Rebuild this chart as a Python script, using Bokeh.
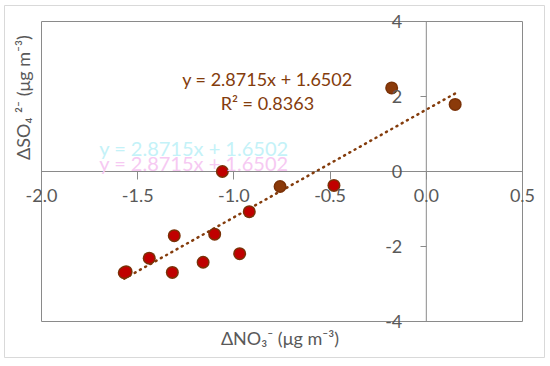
from math import pi
from bokeh.plotting import figure
from bokeh.models import Range1d, FixedTicker, NumeralTickFormatter, Label, ColumnDataSource
from bokeh.embed import file_html
from bokeh.resources import INLINE

# ---- data ----
no3 = [-0.18, 0.15, -0.48, -0.76, -1.06, -0.92, -1.10, -1.31, -0.97, -1.16, -1.44, -1.32, -1.56, -1.57]
so4 = [2.23, 1.79, -0.37, -0.40, 0.00, -1.07, -1.67, -1.71, -2.19, -2.42, -2.31, -2.69, -2.67, -2.70]
group = ["b", "b", "r", "b", "r", "r", "r", "r", "r", "r", "r", "r", "r", "r"]

slope = 2.8715
intercept = 1.6502
r_squared = 0.8363

x_ticks = [-2.0, -1.5, -1.0, -0.5, 0.0, 0.5]
y_ticks = [-4, -2, 0, 2, 4]

x_title = "ΔNO₃⁻ (μg m⁻³)"
y_title = "ΔSO₄ ²⁻ (μg m⁻³)"
eq_text = f"y = {slope}x + {intercept}"
r2_text = f"R² = {r_squared}"

# ---- styles / layout ----
FONT = "Lato"
GREY_TXT = "#595959"
AXIS_C = "#8a8a8a"
BROWN = "#843C0C"
RED = "#C00000"
fill_map = {"b": "#8B3A0A", "r": RED}

W, H = 541, 353
BOX_W, BOX_H = 481, 300          # inner plot box in pixels
PAD_L, PAD_R, PAD_T, PAD_B = 37, 23, 16, 37
ux = BOX_W / (x_ticks[-1] - x_ticks[0])
uy = BOX_H / (y_ticks[-1] - y_ticks[0])
x_range = Range1d(x_ticks[0] - PAD_L / ux, x_ticks[-1] + PAD_R / ux)
y_range = Range1d(y_ticks[0] - PAD_B / uy, y_ticks[-1] + PAD_T / uy)

p = figure(width=W, height=H, output_backend="svg", toolbar_location=None,
           x_range=x_range, y_range=y_range,
           min_border_left=0, min_border_right=0, min_border_top=0, min_border_bottom=0)
p.styles = {"margin-left": "4px", "margin-top": "5px"}
p.background_fill_color = "white"
p.border_fill_color = "white"
p.outline_line_color = "#d9d9d9"
p.outline_line_width = 1
p.xgrid.visible = False
p.ygrid.visible = False

for ax in (p.xaxis[0], p.yaxis[0]):
    ax.fixed_location = 0
    ax.axis_line_color = None
    ax.major_tick_line_color = AXIS_C
    ax.minor_tick_line_color = None
    ax.major_tick_in = 0
    ax.major_label_text_font = FONT
    ax.major_label_text_font_size = "18px"
    ax.major_label_text_color = GREY_TXT

p.xaxis.ticker = FixedTicker(ticks=x_ticks)
p.yaxis.ticker = FixedTicker(ticks=y_ticks)
p.xaxis.formatter = NumeralTickFormatter(format="0.0")
p.yaxis.formatter = NumeralTickFormatter(format="0")
p.xaxis.major_tick_out = 8
p.xaxis.major_label_standoff = 9
p.yaxis.major_tick_out = 6
p.yaxis.major_label_standoff = 18

# plot box and axis lines crossing at the origin
p.quad(left=[x_ticks[0]], right=[x_ticks[-1]], bottom=[y_ticks[0]], top=[y_ticks[-1]],
       fill_color=None, line_color=AXIS_C, line_width=1)
p.segment(x0=[x_ticks[0], 0], y0=[0, y_ticks[0]], x1=[x_ticks[-1], 0], y1=[0, y_ticks[-1]],
          line_color=AXIS_C, line_width=1)

# trendline from fitted coefficients over data span
tx = [min(no3), max(no3)]
ty = [slope * v + intercept for v in tx]
p.line(tx, ty, line_color=BROWN, line_width=2.5, line_dash="1 5", line_cap="round")

src = ColumnDataSource(dict(x=no3, y=so4, fill=[fill_map[g] for g in group]))
p.scatter("x", "y", source=src, size=13, fill_color="#7a3208", line_color=None)
p.scatter("x", "y", source=src, size=10, fill_color="fill", line_color=None)

# ghost duplicate of the equation (faint, as in the reference)
p.add_layout(Label(x=-1.208, y=0.64, text=eq_text, text_font=FONT, text_font_size="20px",
                   text_color="#c4f2f8", text_align="center", text_baseline="middle"))
p.add_layout(Label(x=-1.208, y=0.24, text=eq_text, text_font=FONT, text_font_size="20px",
                   text_color="#f6c9f2", text_align="center", text_baseline="middle"))

# equation labels
p.add_layout(Label(x=-0.826, y=2.48, text=eq_text, text_font=FONT, text_font_size="18px",
                   text_color=BROWN, text_align="center", text_baseline="middle"))
p.add_layout(Label(x=-0.826, y=1.84, text=r2_text, text_font=FONT, text_font_size="18px",
                   text_color=BROWN, text_align="center", text_baseline="middle"))

# axis titles
p.add_layout(Label(x=-0.761, y=-4.43, text=x_title, text_font=FONT, text_font_size="18px",
                   text_color=GREY_TXT, text_align="center", text_baseline="middle"))
p.add_layout(Label(x=-2.096, y=1.97, text=y_title, text_font=FONT, text_font_size="18px",
                   text_color=GREY_TXT, text_align="center", text_baseline="middle", angle=pi / 2))

open("out.html", "w").write(file_html(p, INLINE))
